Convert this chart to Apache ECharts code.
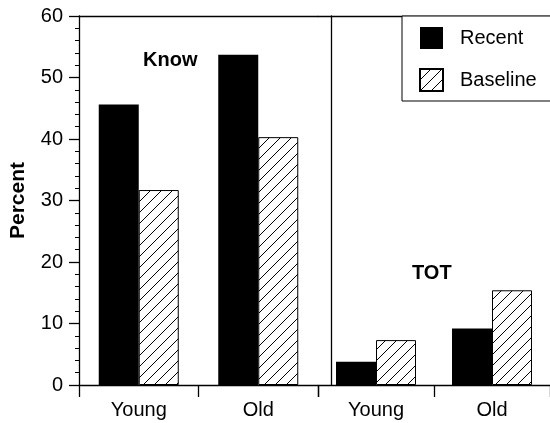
<!DOCTYPE html>
<html>
<head>
<meta charset="utf-8">
<script src="https://cdn.jsdelivr.net/npm/echarts@6/dist/echarts.min.js"></script>
<style>html,body{margin:0;padding:0;background:#fff}#c{width:550px;height:423px}</style>
</head>
<body>
<div id="c"></div>
<script>
var categories = ['Young', 'Old'];
var knowRecent = [45.6, 53.7];
var knowBaseline = [31.7, 40.3];
var totRecent = [3.8, 9.2];
var totBaseline = [7.3, 15.4];
var yMin = 0, yMax = 60, yStep = 10;

function hatch() {
  var s = 11;
  var c = document.createElement('canvas');
  c.width = s; c.height = s;
  var g = c.getContext('2d');
  g.fillStyle = '#fff'; g.fillRect(0, 0, s, s);
  g.strokeStyle = '#000'; g.lineWidth = 1;
  g.beginPath();
  g.moveTo(-1, s + 1); g.lineTo(s + 1, -1);
  g.moveTo(-1, 1); g.lineTo(1, -1);
  g.moveTo(s - 1, s + 1); g.lineTo(s + 1, s - 1);
  g.stroke();
  return c;
}
var pat = { image: hatch(), repeat: 'repeat' };
var FONT = 'Liberation Sans';

var chart = echarts.init(document.getElementById('c'), null, { renderer: 'canvas' });

function xBottom(gi) {
  return {
    type: 'category', gridIndex: gi, data: categories, position: 'bottom',
    axisLine: { onZero: false, lineStyle: { color: '#000', width: 1.3 } },
    axisTick: { show: true, length: 12, alignWithLabel: false, lineStyle: { color: '#000', width: 1.3 } },
    axisLabel: { color: '#000', fontSize: 20, fontFamily: FONT, margin: 15 },
    splitLine: { show: false }
  };
}
function xTop(gi) {
  return {
    type: 'category', gridIndex: gi, data: categories, position: 'top',
    axisLine: { onZero: false, lineStyle: { color: '#000', width: 1.3 } },
    axisTick: { show: false }, axisLabel: { show: false }, splitLine: { show: false }
  };
}

chart.setOption({
  animation: false,
  backgroundColor: '#fff',
  grid: [
    { left: 79, top: 16, width: 239, height: 369 },
    { left: 318, top: 16, width: 239, height: 369 }
  ],
  xAxis: [xBottom(0), xTop(0), xBottom(1), xTop(1)],
  yAxis: [
    {
      type: 'value', gridIndex: 0, min: yMin, max: yMax, interval: yStep,
      name: 'Percent', nameLocation: 'middle', nameGap: 50,
      nameTextStyle: { color: '#000', fontSize: 21, fontWeight: 'bold', fontFamily: FONT },
      axisLine: { show: true, lineStyle: { color: '#000', width: 1.3 } },
      axisTick: { show: true, length: 10, lineStyle: { color: '#000', width: 1.3 } },
      minorTick: { show: true, splitNumber: 5, length: 4, lineStyle: { color: '#000' } },
      axisLabel: { color: '#000', fontSize: 20, fontFamily: FONT, margin: 16 },
      splitLine: { show: false }
    },
    {
      type: 'value', gridIndex: 1, min: yMin, max: yMax, interval: yStep, offset: -13,
      axisLine: { show: true, lineStyle: { color: '#000', width: 1.3 } },
      axisTick: { show: false }, axisLabel: { show: false }, splitLine: { show: false }
    }
  ],
  legend: {
    orient: 'vertical', left: 402, top: 16,
    padding: [11, 30, 9, 17], itemGap: 19, itemWidth: 23, itemHeight: 22,
    backgroundColor: '#fff', borderColor: '#000', borderWidth: 1, borderRadius: 0,
    textStyle: { color: '#000', fontSize: 20, fontFamily: FONT, padding: [0, 0, 0, 12] },
    data: [
      { name: 'Recent', icon: 'rect' },
      { name: 'Baseline', icon: 'rect' }
    ]
  },
  graphic: [
    { type: 'text', left: 143, top: 50, style: { text: 'Know', fontSize: 20, fontWeight: 'bold', fontFamily: FONT, fill: '#000' } },
    { type: 'text', left: 412, top: 263, style: { text: 'TOT', fontSize: 20, fontWeight: 'bold', fontFamily: FONT, fill: '#000' } }
  ],
  series: [
    { name: 'Recent', type: 'bar', xAxisIndex: 0, yAxisIndex: 0, data: knowRecent, barWidth: 40, barGap: '0%',
      itemStyle: { color: '#000' } },
    { name: 'Baseline', type: 'bar', xAxisIndex: 0, yAxisIndex: 0, data: knowBaseline, barWidth: 40, barGap: '0%',
      itemStyle: { color: pat, borderColor: '#000', borderWidth: 1 } },
    { name: 'Recent', type: 'bar', xAxisIndex: 2, yAxisIndex: 1, data: totRecent, barWidth: 40, barGap: '0%',
      itemStyle: { color: '#000' } },
    { name: 'Baseline', type: 'bar', xAxisIndex: 2, yAxisIndex: 1, data: totBaseline, barWidth: 40, barGap: '0%',
      itemStyle: { color: pat, borderColor: '#000', borderWidth: 1 } }
  ]
});
</script>
</body>
</html>
